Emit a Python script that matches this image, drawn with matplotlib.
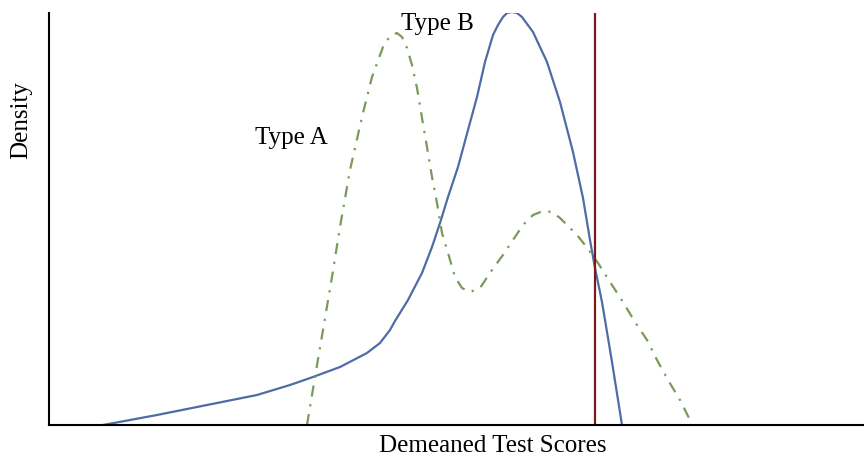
import matplotlib.pyplot as plt

plt.rcParams['font.family'] = ['Liberation Serif', 'DejaVu Serif']

# curves (arbitrary score / density units)
type_b_x = [54, 81, 108, 158, 208, 241, 264, 291, 318, 331, 341, 346, 359, 373,
            383, 391, 399, 409, 419, 428, 436, 444, 449, 454, 458, 463, 468,
            473, 484, 498, 511, 524, 534, 541, 546, 553, 563, 573]
type_b_y = [0, 5, 10, 20, 30, 40, 48, 58, 72, 82, 95, 104, 125, 152,
            178, 202, 228, 258, 295, 328, 363, 390, 400, 408, 412, 413, 412,
            408, 393, 363, 323, 273, 227, 185, 157, 123, 63, 0]

type_a_x = [258, 266, 274, 283, 291, 301, 313, 323, 334, 341, 348, 353, 358, 363,
            368, 373, 378, 383, 388, 393, 399, 406, 413, 421, 431, 443, 454,
            464, 474, 484, 494, 503, 511, 528, 536, 549, 561, 574, 586, 598,
            608, 619, 631, 641]
type_a_y = [0, 48, 95, 148, 198, 255, 308, 348, 378, 389, 392, 388, 377, 360,
            337, 307, 278, 248, 222, 192, 172, 148, 137, 133, 137, 155, 170,
            185, 200, 210, 214, 213, 207, 190, 180, 162, 143, 123, 103, 85,
            65, 45, 25, 5]

cutoff = 546

fig = plt.figure(figsize=(8.64, 4.59), dpi=100)
ax = fig.add_axes([49 / 864, 34 / 459, 815 / 864, 412 / 459])

ax.plot(type_b_x, type_b_y, color='#4f6ca6', lw=1.6, solid_joinstyle='round')
ax.plot(type_a_x, type_a_y, color='#7a9a5c', lw=1.6,
        linestyle=(0, (5, 3.5, 1, 3.5)))
ax.axvline(cutoff, color='#7b1a1a', lw=1.6)

ax.set_xlim(0, 815)
ax.set_ylim(0, 412)
ax.set_xticks([])
ax.set_yticks([])
for side in ['top', 'right']:
    ax.spines[side].set_visible(False)
for side in ['left', 'bottom']:
    ax.spines[side].set_linewidth(1.5)

ax.text(242, 287, 'Type A', fontsize=18, ha='center', va='center')
ax.text(388, 401, 'Type B', fontsize=18, ha='center', va='center')
ax.set_xlabel('Demeaned Test Scores', fontsize=18)
ax.set_ylabel('Density', fontsize=18)
ax.xaxis.set_label_coords(444 / 815, -10 / 412)
ax.yaxis.set_label_coords(-17 / 815, 305 / 412)

fig.savefig('out.png', dpi=100)
